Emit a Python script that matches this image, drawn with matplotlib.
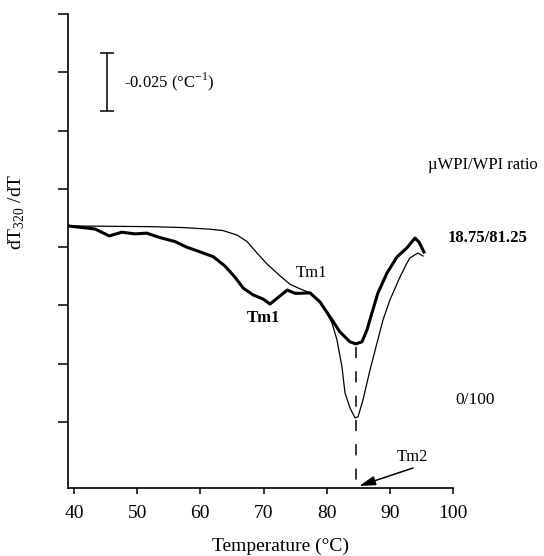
import matplotlib
matplotlib.use("Agg")

import matplotlib.pyplot as plt

plt.rcParams["font.family"] = ["Liberation Serif", "DejaVu Serif"]
plt.rcParams["mathtext.fontset"] = "custom"
plt.rcParams["mathtext.rm"] = "Liberation Serif"
plt.rcParams["lines.scale_dashes"] = False

# 18.75/81.25 (thick curve)
temp_mix = [39.05, 43.32, 45.59, 47.55, 49.66, 51.51, 53.61, 55.99, 57.84, 59.42,
            62.05, 63.90, 65.49, 66.80, 68.38, 69.97, 71.03, 72.61, 73.77, 74.99,
            75.78, 77.36, 78.94, 80.53, 82.11, 83.69, 84.60, 85.59, 86.38, 87.17,
            88.12, 89.55, 91.13, 92.71, 93.98, 94.61, 95.41]
dt_mix = [-0.0909, -0.0922, -0.0952, -0.0936, -0.0943, -0.0940, -0.0959, -0.0976, -0.1000, -0.1015,
          -0.1041, -0.1081, -0.1129, -0.1176, -0.1205, -0.1223, -0.1244, -0.1209, -0.1184, -0.1198,
          -0.1198, -0.1196, -0.1235, -0.1299, -0.1364, -0.1406, -0.1415, -0.1406, -0.1355, -0.1282,
          -0.1196, -0.1111, -0.1042, -0.1003, -0.0961, -0.0978, -0.1021]

# 0/100 (thin curve)
temp_wpi = [39.05, 52.03, 57.26, 61.53, 63.59, 65.80, 67.39, 68.97, 70.55, 72.61,
            74.19, 75.46, 77.36, 78.94, 79.73, 80.84, 81.63, 82.43, 82.90, 83.69,
            84.48, 84.96, 85.75, 86.86, 87.97, 88.92, 90.02, 91.61, 92.71, 93.19,
            94.45, 95.25]
dt_wpi = [-0.0909, -0.0912, -0.0916, -0.0923, -0.0929, -0.0948, -0.0976, -0.1025, -0.1072, -0.1123,
          -0.1159, -0.1175, -0.1196, -0.1235, -0.1269, -0.1325, -0.1398, -0.1515, -0.1625, -0.1689,
          -0.1732, -0.1728, -0.1655, -0.1527, -0.1411, -0.1312, -0.1226, -0.1128, -0.1068, -0.1046,
          -0.1025, -0.1038]

tm2 = 84.6
x_ticks = [40, 50, 60, 70, 80, 90, 100]
y_ticks = [0, -0.025, -0.05, -0.075, -0.1, -0.125, -0.15, -0.175]

W, H = 544, 556
fig = plt.figure(figsize=(W / 100, H / 100), dpi=100)
ax = fig.add_axes([68 / W, 1 - 488 / H, 385 / W, 474 / H])


def fx(px):
    return px / W


def fy(py):
    return 1 - py / H


ax.plot(temp_wpi, dt_wpi, color="black", lw=0.9)
ax.plot(temp_mix, dt_mix, color="black", lw=2.2)
ax.plot([tm2, tm2], [-0.1430, -0.2033], color="black", lw=1.1, dashes=(8, 9.5))

# scale bar
ax.errorbar([45.2], [-0.0291], yerr=0.0125, color="black", lw=1.1, capsize=5, capthick=1.1)

ax.set_xlim(39.05, 100)
ax.set_ylim(-0.2033, 0)
ax.set_xticks(x_ticks)
ax.set_xticklabels([str(t) for t in x_ticks], fontsize=14)
ax.set_yticks(y_ticks)
ax.set_yticklabels([])
ax.tick_params(axis="y", direction="out", length=7, width=1.1)
ax.tick_params(axis="x", direction="out", length=4, width=1.1, pad=8)
for s in ["top", "right"]:
    ax.spines[s].set_visible(False)
for s in ["left", "bottom"]:
    ax.spines[s].set_linewidth(1.2)

fig.text(fx(124), fy(82), "-0.025 (°C$^{\\mathrm{-1}}$)", fontsize=12, ha="left", va="center")
fig.text(fx(428), fy(165), "µWPI/WPI ratio", fontsize=12, ha="left", va="center")
fig.text(fx(448), fy(238), "18.75/81.25", fontsize=12, fontweight="bold", ha="left", va="center")
fig.text(fx(455), fy(400), "0/100", fontsize=12.5, ha="left", va="center")
fig.text(fx(311), fy(273), "Tm1", fontsize=12, ha="center", va="center")
fig.text(fx(263), fy(318), "Tm1", fontsize=12, fontweight="bold", ha="center", va="center")

fig.text(fx(412), fy(457), "Tm2", fontsize=12, ha="center", va="center")
ax.annotate("", xy=(fx(359), fy(486)), xycoords="figure fraction",
            xytext=(fx(413), fy(468)), textcoords="figure fraction",
            arrowprops=dict(arrowstyle="-|>,head_length=0.7,head_width=0.2", color="black",
                            lw=1.1, mutation_scale=14, shrinkA=0, shrinkB=0))

fig.text(fx(280), fy(546), "Temperature (°C)", fontsize=14, ha="center", va="center")
fig.text(fx(17), fy(212), "dT$_{\\mathrm{320}}$ /dT", fontsize=14, ha="center", va="center",
         rotation=90)

fig.savefig("out.png", dpi=100)
